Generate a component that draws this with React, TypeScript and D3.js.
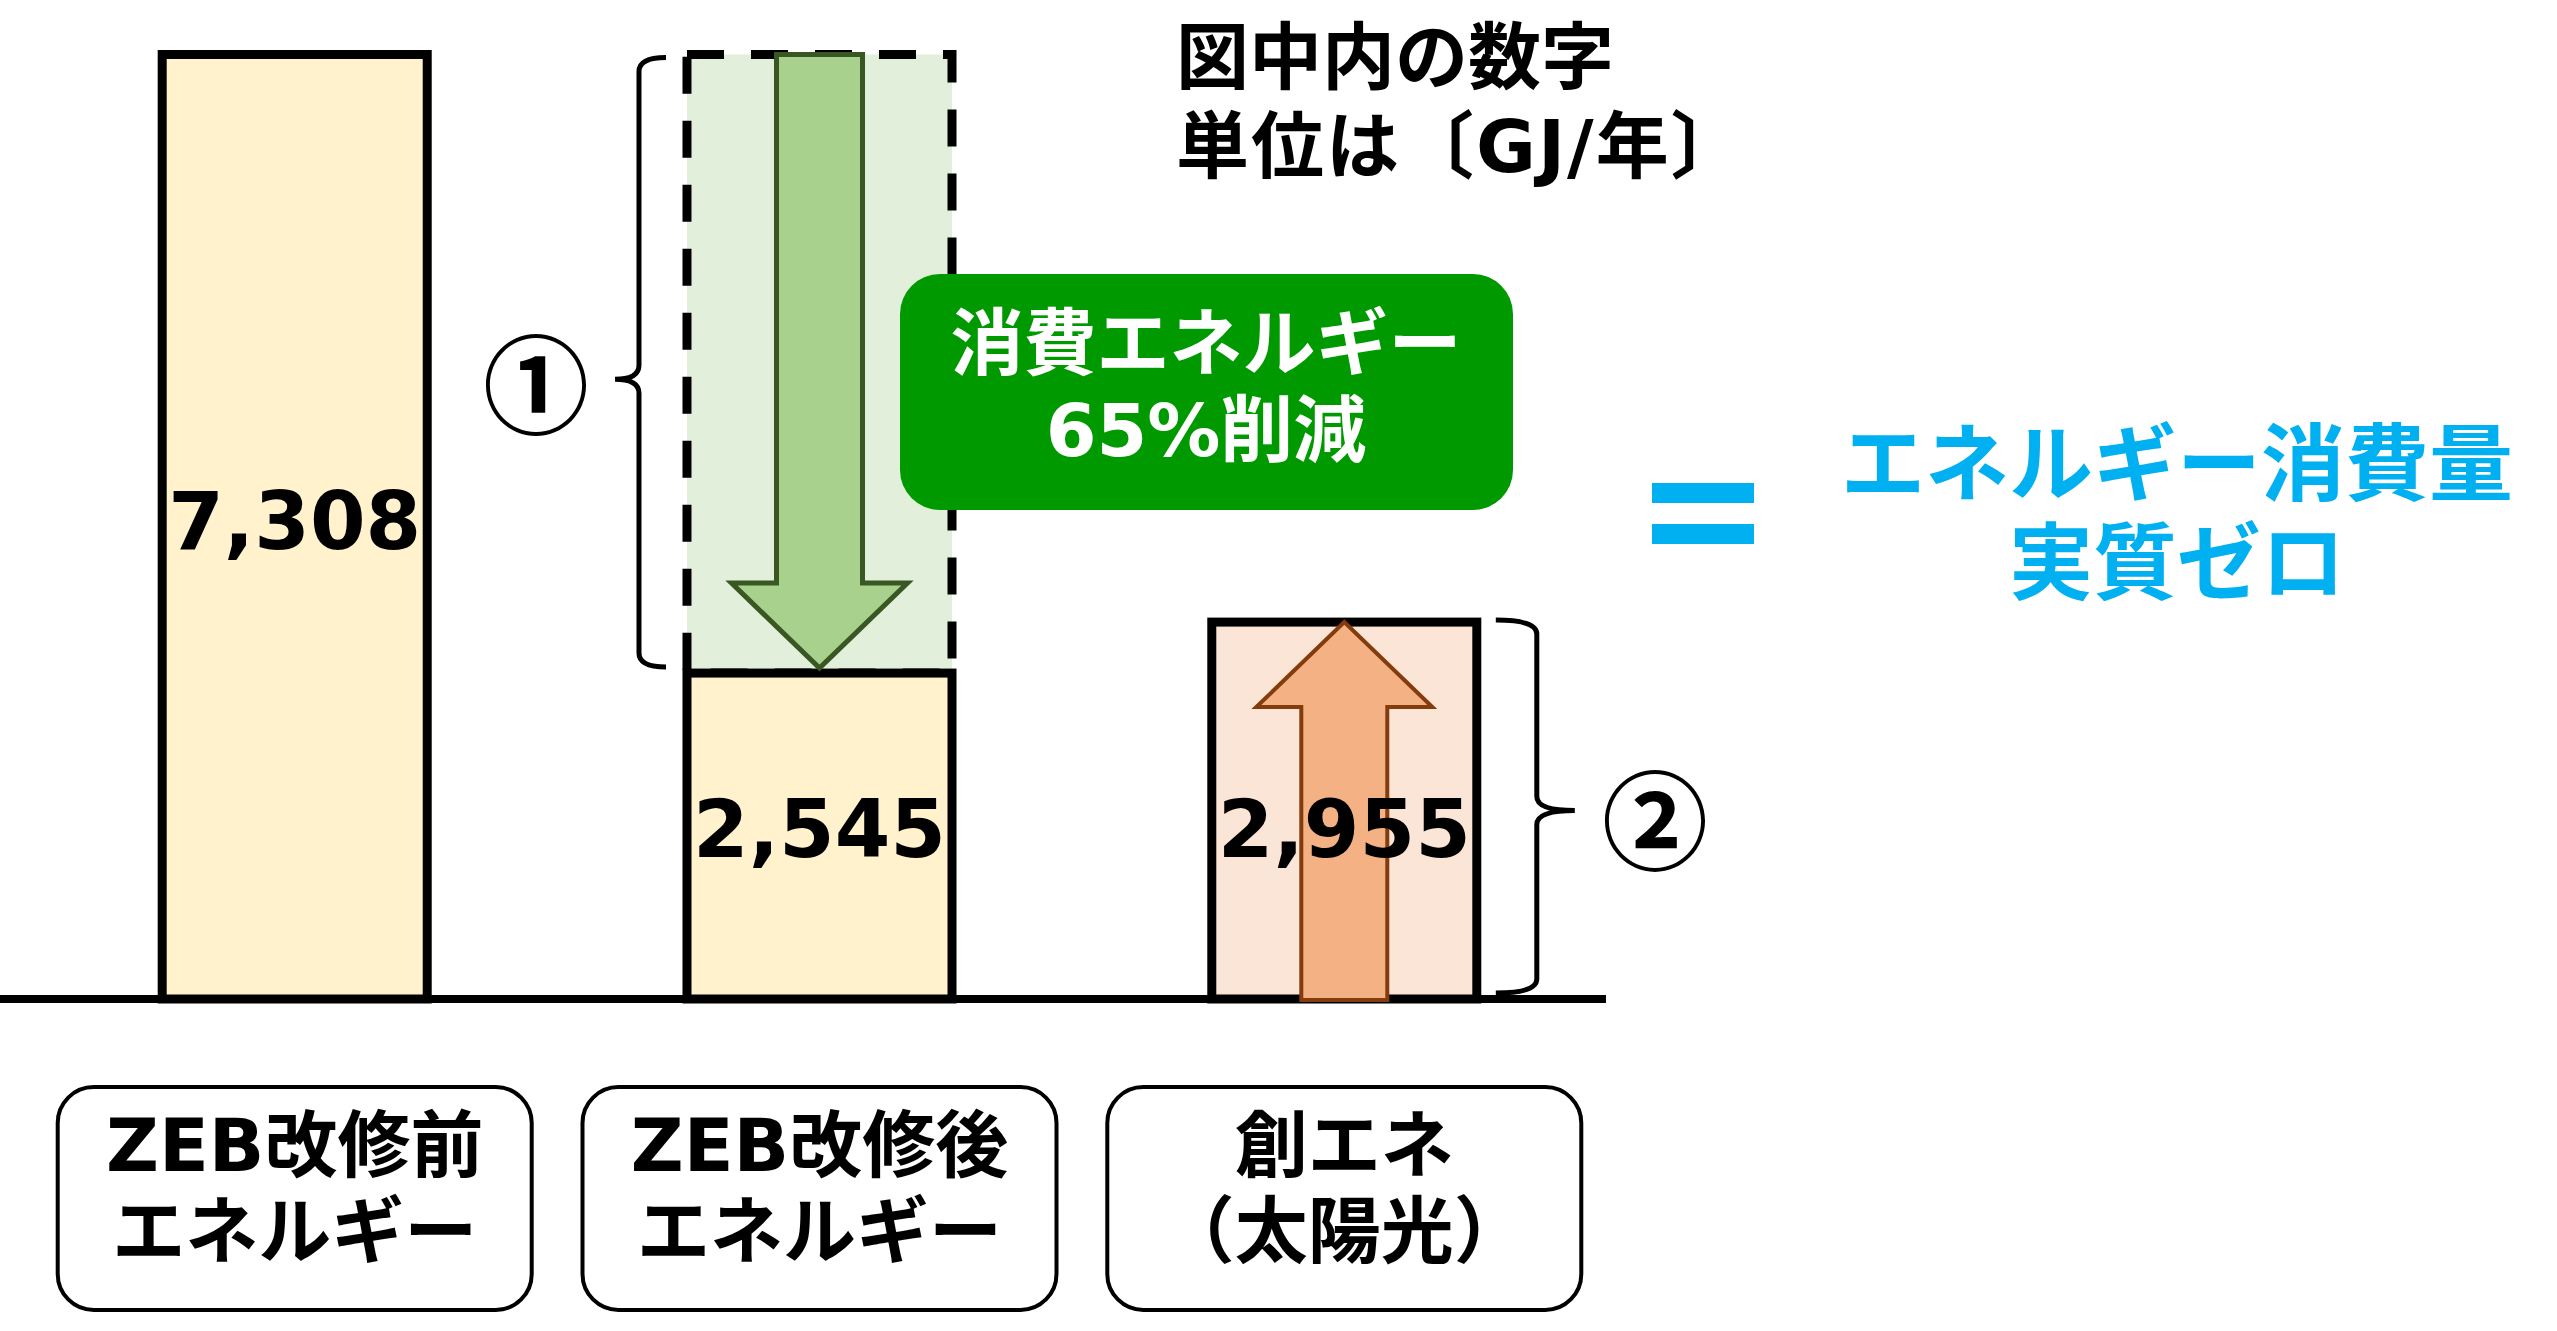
import * as d3 from 'd3';

// 図中の数値 (GJ/年)
const categories = ['ZEB改修前エネルギー', 'ZEB改修後エネルギー', '創エネ（太陽光）'];
const values = [7308, 2545, 2955];
const valueLabels = ['7,308', '2,545', '2,955'];
const boxLines = [
  ['ZEB改修前', 'エネルギー'],
  ['ZEB改修後', 'エネルギー'],
  ['創エネ', '（太陽光）'],
];
const noteLines = ['図中内の数字', '単位は〔GJ/年〕'];
const calloutLines = ['消費エネルギー', '65%削減'];
const resultLines = ['エネルギー消費量', '実質ゼロ'];

const W = 2557;
const H = 1331;
const FONT = '"DejaVu Sans", "Noto Sans CJK JP", sans-serif';
const JP = '"Noto Sans CJK JP", sans-serif';

// curly brace with its hooks at x = hook and its point at x = tip
function brace(xLine: number, y0: number, y1: number, yMid: number, hook: number, tip: number) {
  const r = 14;
  const p = d3.path();
  p.moveTo(hook, y0);
  p.quadraticCurveTo(xLine, y0, xLine, y0 + r);
  p.lineTo(xLine, yMid - r);
  p.quadraticCurveTo(xLine, yMid, tip, yMid);
  p.quadraticCurveTo(xLine, yMid, xLine, yMid + r);
  p.lineTo(xLine, y1 - r);
  p.quadraticCurveTo(xLine, y1, hook, y1);
  return p.toString();
}

// block arrow from (cx, yTail) to (cx, yTip)
function blockArrow(cx: number, yTail: number, yTip: number, shaft: number, head: number, headLen: number) {
  const s = Math.sign(yTip - yTail);
  const yb = yTip - s * headLen;
  const pts: [number, number][] = [
    [cx - shaft, yTail], [cx + shaft, yTail], [cx + shaft, yb], [cx + head, yb],
    [cx, yTip], [cx - head, yb], [cx - shaft, yb],
  ];
  return d3.line()(pts) + 'Z';
}

export default function App() {
  const x = d3.scaleBand().domain(categories).range([31, 1608]).paddingInner(0.495).paddingOuter(0.25);
  const y = d3.scaleLinear().domain([0, values[0]]).range([999, 54.5]);
  const bw = x.bandwidth();
  const cx = (i: number) => (x(categories[i]) as number) + bw / 2;
  const labelY = (i: number) => y((i === 2 ? values[1] : values[i]) / 2) + 22;

  const b2 = x(categories[1]) as number;
  const b3 = x(categories[2]) as number;

  const top1 = y(values[0]);
  const top2 = y(values[1]) + 3;
  const top3 = y(values[2]) + 5;

  return (
    <svg width={W} height={H} style={{ position: 'absolute', left: 0, top: 0, background: '#fff' }}>
      {/* reduced part */}
      <rect x={b2} y={top1} width={bw} height={top2 - top1} fill="#E2EFDA" />
      <rect x={b2} y={top1} width={bw} height={top2 - top1} fill="none" stroke="#000" strokeWidth={9} strokeDasharray="37,27" />

      {/* bars */}
      {values.map((v, i) => {
        const t = i === 0 ? top1 : i === 1 ? top2 : top3;
        return (
          <rect key={i} x={x(categories[i])} y={t} width={bw} height={y(0) - t}
            fill={i === 2 ? '#FBE5D6' : '#FFF2CC'} stroke="#000" strokeWidth={9} />
        );
      })}

      {/* axis */}
      <line x1={0} x2={1606} y1={y(0)} y2={y(0)} stroke="#000" strokeWidth={8} />

      {/* arrows */}
      <path d={blockArrow(cx(1), top1, top2 - 5, 43, 88, 85)} fill="#A9D18E" stroke="#385723" strokeWidth={5} />
      <path d={blockArrow(cx(2), y(0) + 1, top3, 43, 88, 85)} fill="#F4B183" stroke="#843C0C" strokeWidth={4} />

      {/* value labels */}
      {valueLabels.map((t, i) => (
        <text key={i} x={cx(i)} y={labelY(i)} textAnchor="middle" fontFamily={FONT} fontWeight="bold" fontSize={80} fill="#000">{t}</text>
      ))}

      {/* braces */}
      <path d={brace(b2 - 48, top1 + 3, top2 - 6, top1 + 0.525 * (top2 - top1), b2 - 21, b2 - 72)} fill="none" stroke="#000" strokeWidth={5} />
      <path d={brace(b3 + bw + 60, top3 - 2, y(0) - 6, (top3 + y(0)) / 2, b3 + bw + 19, b3 + bw + 98)} fill="none" stroke="#000" strokeWidth={5} />
      <text x={536} y={379} textAnchor="middle" dominantBaseline="central" fontFamily={JP} fontWeight="bold" fontSize={106}>①</text>
      <text x={1655} y={815} textAnchor="middle" dominantBaseline="central" fontFamily={JP} fontWeight="bold" fontSize={106}>②</text>

      {/* callout */}
      <rect x={900} y={274} width={613} height={236} rx={40} fill="#009900" />
      {calloutLines.map((t, i) => (
        <text key={i} x={1206} y={369 + i * 87} textAnchor="middle" fontFamily={FONT} fontWeight="bold" fontSize={73} fill="#fff">{t}</text>
      ))}

      {/* unit note */}
      {noteLines.map((t, i) => (
        <text key={i} x={1176} y={83 + i * 89} fontFamily={FONT} fontWeight="bold" fontSize={73}
          letterSpacing={i === 1 ? 2 : 0} fill="#000">{t}</text>
      ))}

      {/* equals + result */}
      <rect x={1652} y={483} width={102} height={20} fill="#00B0F0" />
      <rect x={1652} y={524} width={102} height={20} fill="#00B0F0" />
      {resultLines.map((t, i) => (
        <text key={i} x={2177} y={494 + i * 99} textAnchor="middle" fontFamily={FONT} fontWeight="bold" fontSize={84} fill="#00B0F0">{t}</text>
      ))}

      {/* category boxes */}
      {boxLines.map((lines, i) => (
        <g key={i}>
          <rect x={cx(i) - 237} y={1087} width={474} height={223} rx={36} fill="#fff" stroke="#000" strokeWidth={4} />
          {lines.map((t, j) => (
            <text key={j} x={cx(i)} y={1171 + j * 86} textAnchor="middle" fontFamily={FONT} fontWeight="bold" fontSize={73} fill="#000">{t}</text>
          ))}
        </g>
      ))}
    </svg>
  );
}
